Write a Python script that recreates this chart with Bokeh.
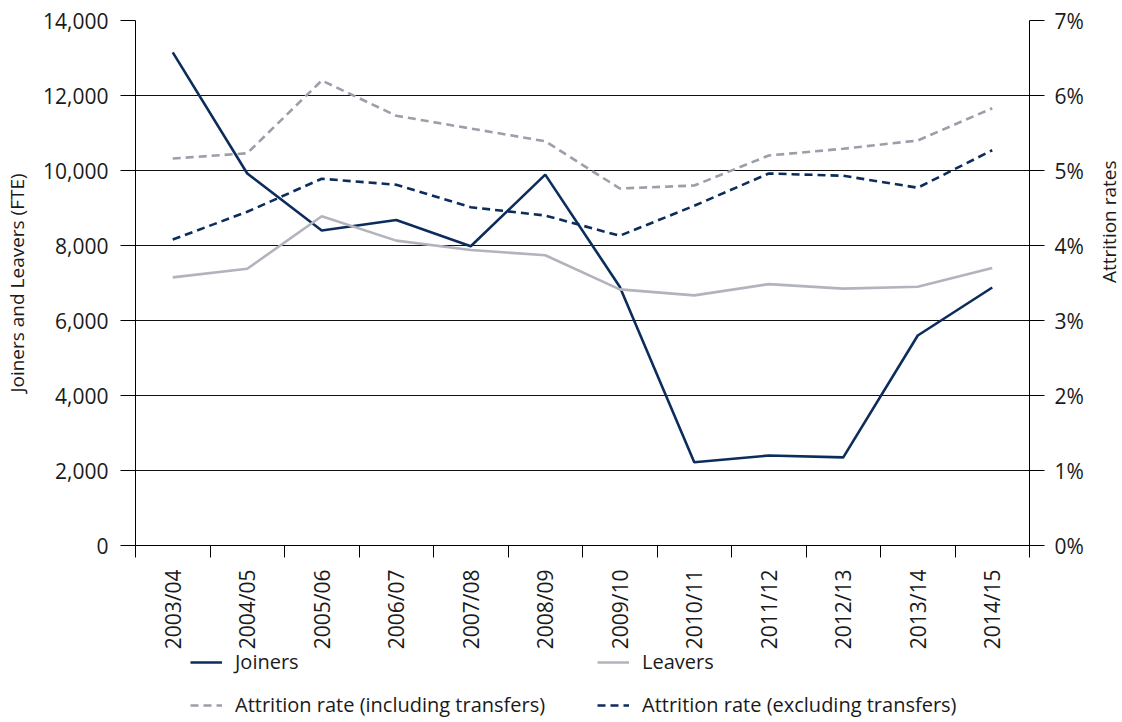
import math
from bokeh.plotting import figure
from bokeh.layouts import column
from bokeh.models import (Range1d, LinearAxis, FixedTicker, CustomJSTickFormatter,
                          NumeralTickFormatter, Legend, LegendItem, Grid,
                          ColumnDataSource)
from bokeh.embed import file_html
from bokeh.resources import INLINE

# ---------------- data ----------------
years = ["2003/04", "2004/05", "2005/06", "2006/07", "2007/08", "2008/09",
         "2009/10", "2010/11", "2011/12", "2012/13", "2013/14", "2014/15"]
joiners = [13150, 9920, 8400, 8680, 7980, 9890, 6900, 2220, 2400, 2350, 5600, 6880]
leavers = [7150, 7380, 8780, 8130, 7880, 7740, 6830, 6670, 6970, 6850, 6900, 7400]
attr_incl = [5.16, 5.23, 6.20, 5.73, 5.56, 5.39, 4.76, 4.80, 5.20, 5.29, 5.40, 5.83]
attr_excl = [4.08, 4.45, 4.89, 4.81, 4.51, 4.40, 4.13, 4.53, 4.96, 4.93, 4.77, 5.27]
fte_ticks = [0, 2000, 4000, 6000, 8000, 10000, 12000, 14000]
pct_ticks = [0, 1, 2, 3, 4, 5, 6, 7]
series_names = ["Joiners", "Leavers",
                "Attrition rate (including transfers)",
                "Attrition rate (excluding transfers)"]

FONT = "Open Sans"
NAVY = "#0c2d5b"
LGREY = "#b2b4bd"
DGREY = "#9c9ea9"
TXT = "#1a1a1a"
TICK_FS = "21px"

styles = [dict(line_color=NAVY, line_width=2.6),
          dict(line_color=LGREY, line_width=2.6),
          dict(line_color=DGREY, line_width=2.6, line_dash="8 5"),
          dict(line_color=NAVY, line_width=2.6, line_dash="8 5")]

n = len(years)
centers = [i + 0.5 for i in range(n)]
bounds = list(range(n + 1))

src = ColumnDataSource(dict(x=centers, joiners=joiners, leavers=leavers,
                            incl=attr_incl, excl=attr_excl))

p = figure(frame_width=894, frame_height=525,
           x_range=Range1d(0, n), y_range=Range1d(0, 14000),
           x_axis_type=None, y_axis_type=None,
           output_backend="svg", toolbar_location=None,
           min_border_left=135, min_border_right=93, min_border_top=20,
           min_border_bottom=100)
p.outline_line_color = None
p.background_fill_color = "white"
p.extra_y_ranges = {"pct": Range1d(0, 7)}

# grid
grid = Grid(dimension=1, ticker=FixedTicker(ticks=fte_ticks),
            grid_line_color="#111111", grid_line_width=1)
p.add_layout(grid)

# x axis
xaxis = LinearAxis(ticker=FixedTicker(ticks=centers, minor_ticks=bounds),
                   formatter=CustomJSTickFormatter(args=dict(labels=years),
                                                   code="return labels[Math.floor(tick)] || '';"))
xaxis.major_tick_out = 0
xaxis.major_tick_in = 0
xaxis.minor_tick_out = 12
xaxis.minor_tick_in = 0
xaxis.minor_tick_line_color = "black"
xaxis.minor_tick_line_width = 1
xaxis.axis_line_color = "black"
xaxis.major_label_orientation = math.pi / 2
xaxis.major_label_standoff = 12
xaxis.major_label_text_font = FONT
xaxis.major_label_text_font_size = TICK_FS
xaxis.major_label_text_color = TXT
p.add_layout(xaxis, "below")

# left axis
yaxis = LinearAxis(ticker=FixedTicker(ticks=fte_ticks),
                   formatter=NumeralTickFormatter(format="0,0"),
                   axis_label="Joiners and Leavers (FTE)")
yaxis.major_tick_out = 15
yaxis.major_tick_in = 0
yaxis.minor_tick_out = 0
yaxis.minor_tick_in = 0
yaxis.major_tick_line_color = "black"
yaxis.axis_line_color = "black"
yaxis.major_label_standoff = 12
yaxis.major_label_text_font = FONT
yaxis.major_label_text_font_size = TICK_FS
yaxis.major_label_text_color = TXT
yaxis.axis_label_text_font = FONT
yaxis.axis_label_text_font_size = "19px"
yaxis.axis_label_text_font_style = "normal"
yaxis.axis_label_text_color = TXT
yaxis.axis_label_standoff = 10
p.add_layout(yaxis, "left")

# right axis
raxis = LinearAxis(y_range_name="pct", ticker=FixedTicker(ticks=pct_ticks),
                   formatter=CustomJSTickFormatter(code="return tick.toFixed(0) + '%';"),
                   axis_label="Attrition rates")
raxis.major_tick_out = 15
raxis.major_tick_in = 0
raxis.minor_tick_out = 0
raxis.minor_tick_in = 0
raxis.major_tick_line_color = "black"
raxis.axis_line_color = "black"
raxis.major_label_standoff = 10
raxis.major_label_text_font = FONT
raxis.major_label_text_font_size = TICK_FS
raxis.major_label_text_color = TXT
raxis.axis_label_text_font = FONT
raxis.axis_label_text_font_size = "19px"
raxis.axis_label_text_font_style = "normal"
raxis.axis_label_text_color = TXT
raxis.axis_label_standoff = 22
if "axis_label_orientation" in LinearAxis.properties():
    raxis.axis_label_orientation = math.pi / 2
p.add_layout(raxis, "right")

# series
p.line("x", "joiners", source=src, **styles[0])
p.line("x", "leavers", source=src, **styles[1])
p.line("x", "incl", source=src, y_range_name="pct", **styles[2])
p.line("x", "excl", source=src, y_range_name="pct", **styles[3])

# ---------------- legend strip (separate figure below) ----------------
lp = figure(width=1122, height=77, x_range=Range1d(0, 1), y_range=Range1d(0, 1),
            x_axis_type=None, y_axis_type=None,
            output_backend="svg", toolbar_location=None,
            min_border_left=0, min_border_right=0, min_border_top=0,
            min_border_bottom=0)
lp.outline_line_color = None
lp.grid.visible = False
nan = float("nan")
items = []
for name, st in zip(series_names, styles):
    r = lp.line(x=[nan], y=[nan], **st)
    items.append(LegendItem(label=name, renderers=[r]))

legend = Legend(items=items, orientation="horizontal", ncols=2, location=(55, 11))
legend.label_text_font = FONT
legend.label_text_font_size = "20px"
legend.label_text_color = TXT
legend.glyph_width = 32
legend.glyph_height = 20
legend.label_height = 20
legend.label_width = 346
legend.label_standoff = 13
legend.spacing = 16
legend.padding = 0
legend.margin = 0
legend.border_line_color = None
legend.background_fill_alpha = 0
lp.add_layout(legend)

layout = column(p, lp, spacing=0)
open("out.html", "w").write(file_html(layout, INLINE))
